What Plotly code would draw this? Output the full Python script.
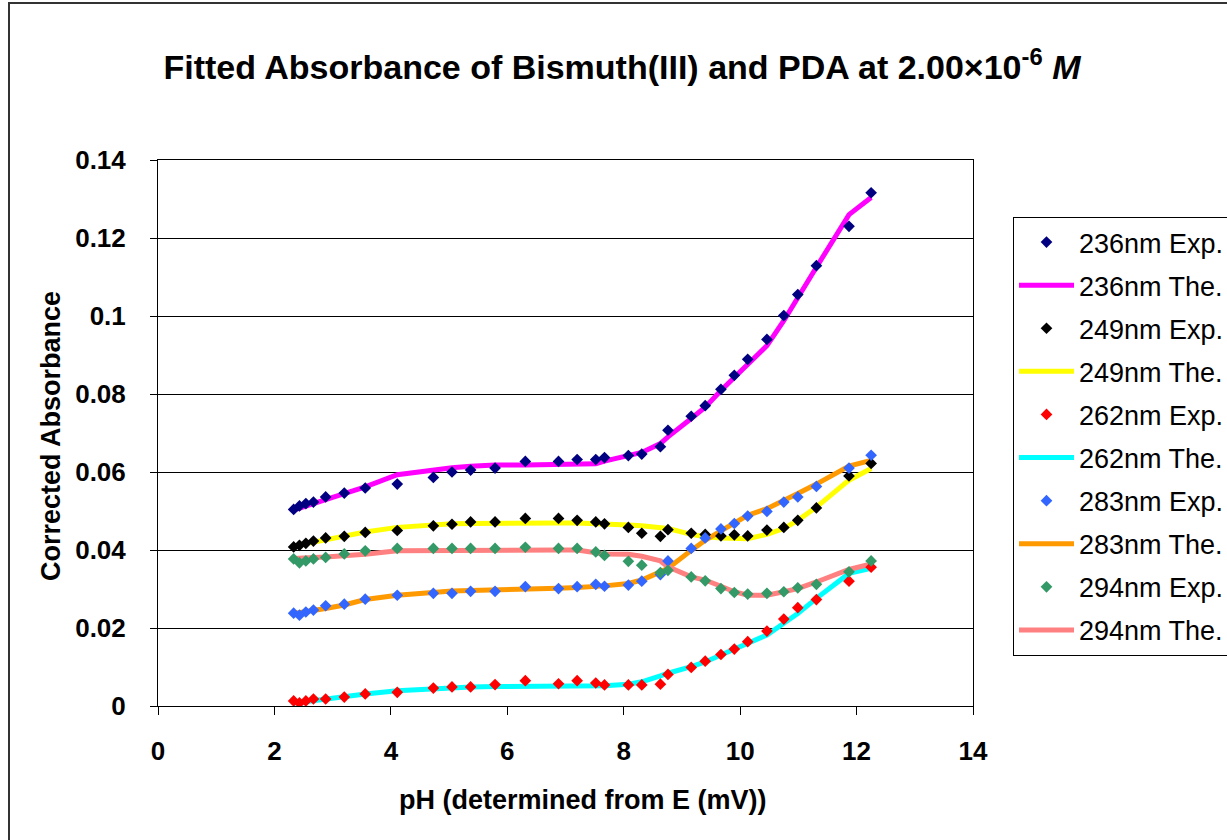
import plotly.graph_objects as go

ph = [2.33, 2.43, 2.54, 2.67, 2.88, 3.20, 3.56, 4.11, 4.73, 5.05, 5.37, 5.79, 6.31, 6.88, 7.20, 7.52,
      7.67, 8.08, 8.31, 8.63, 8.76, 9.16, 9.40, 9.67, 9.90, 10.13, 10.46, 10.75, 10.99, 11.31, 11.87, 12.25]

exp_236 = [0.0504, 0.0513, 0.0519, 0.0523, 0.0536, 0.0546, 0.0559, 0.0569, 0.0586, 0.0600, 0.0605, 0.0610,
           0.0627, 0.0627, 0.0632, 0.0632, 0.0637, 0.0642, 0.0646, 0.0665, 0.0707, 0.0743, 0.0770, 0.0812,
           0.0848, 0.0889, 0.0940, 0.1001, 0.1055, 0.1129, 0.1230, 0.1316]
the_236 = [0.0502, 0.0508, 0.0514, 0.0519, 0.0529, 0.0545, 0.0562, 0.0593, 0.0606, 0.0611, 0.0615, 0.0618,
           0.0618, 0.0618, 0.0620, 0.0621, 0.0628, 0.0643, 0.0650, 0.0673, 0.0690, 0.0737, 0.0766, 0.0809,
           0.0843, 0.0878, 0.0924, 0.0988, 0.1048, 0.1125, 0.1260, 0.1304]
exp_249 = [0.0408, 0.0412, 0.0417, 0.0423, 0.0431, 0.0435, 0.0445, 0.0450, 0.0462, 0.0466, 0.0472, 0.0472,
           0.0481, 0.0481, 0.0476, 0.0472, 0.0467, 0.0458, 0.0443, 0.0435, 0.0452, 0.0443, 0.0440, 0.0436,
           0.0439, 0.0436, 0.0451, 0.0458, 0.0476, 0.0508, 0.0590, 0.0622]
the_249 = [0.0410, 0.0413, 0.0416, 0.0420, 0.0426, 0.0436, 0.0446, 0.0458, 0.0465, 0.0467, 0.0468, 0.0469,
           0.0469, 0.0469, 0.0469, 0.0468, 0.0467, 0.0464, 0.0462, 0.0458, 0.0455, 0.0440, 0.0434, 0.0431,
           0.0429, 0.0429, 0.0440, 0.0455, 0.0476, 0.0510, 0.0579, 0.0609]
exp_262 = [0.0013, 0.0008, 0.0013, 0.0018, 0.0018, 0.0023, 0.0031, 0.0035, 0.0046, 0.0049, 0.0049, 0.0055,
           0.0065, 0.0057, 0.0065, 0.0059, 0.0054, 0.0054, 0.0054, 0.0056, 0.0081, 0.0099, 0.0115, 0.0132,
           0.0146, 0.0165, 0.0192, 0.0223, 0.0252, 0.0273, 0.0320, 0.0356]
the_262 = [0.0007, 0.0009, 0.0011, 0.0013, 0.0017, 0.0024, 0.0031, 0.0039, 0.0045, 0.0047, 0.0049, 0.0050,
           0.0050, 0.0050, 0.0050, 0.0051, 0.0052, 0.0056, 0.0062, 0.0077, 0.0084, 0.0101, 0.0113, 0.0131,
           0.0145, 0.0161, 0.0182, 0.0212, 0.0237, 0.0276, 0.0340, 0.0353]
exp_283 = [0.0238, 0.0233, 0.0241, 0.0246, 0.0257, 0.0261, 0.0274, 0.0284, 0.0289, 0.0289, 0.0294, 0.0294,
           0.0306, 0.0301, 0.0306, 0.0312, 0.0307, 0.0310, 0.0320, 0.0337, 0.0372, 0.0404, 0.0431, 0.0454,
           0.0468, 0.0487, 0.0499, 0.0523, 0.0536, 0.0563, 0.0610, 0.0643]
the_283 = [0.0237, 0.0239, 0.0241, 0.0244, 0.0250, 0.0259, 0.0273, 0.0284, 0.0293, 0.0295, 0.0296, 0.0297,
           0.0301, 0.0302, 0.0304, 0.0306, 0.0308, 0.0314, 0.0323, 0.0344, 0.0353, 0.0399, 0.0425, 0.0449,
           0.0469, 0.0489, 0.0506, 0.0526, 0.0545, 0.0569, 0.0615, 0.0630]
exp_294 = [0.0377, 0.0367, 0.0372, 0.0377, 0.0381, 0.0390, 0.0398, 0.0404, 0.0404, 0.0404, 0.0404, 0.0404,
           0.0407, 0.0404, 0.0404, 0.0395, 0.0386, 0.0371, 0.0361, 0.0342, 0.0348, 0.0331, 0.0321, 0.0301,
           0.0291, 0.0287, 0.0289, 0.0293, 0.0303, 0.0312, 0.0344, 0.0372]
the_294 = [0.0378, 0.0378, 0.0379, 0.0381, 0.0382, 0.0384, 0.0389, 0.0398, 0.0399, 0.0400, 0.0400, 0.0400,
           0.0400, 0.0400, 0.0400, 0.0393, 0.0390, 0.0389, 0.0384, 0.0372, 0.0357, 0.0331, 0.0323, 0.0307,
           0.0293, 0.0284, 0.0284, 0.0293, 0.0301, 0.0318, 0.0350, 0.0364]

wavelengths = ["236nm", "249nm", "262nm", "283nm", "294nm"]
exp_series = [exp_236, exp_249, exp_262, exp_283, exp_294]
the_series = [the_236, the_249, the_262, the_283, the_294]
exp_colors = ["#000080", "#000000", "#FF0000", "#3366FF", "#339966"]
the_colors = ["#FF00FF", "#FFFF00", "#00FFFF", "#FF9900", "#FF8080"]

x_tickvals = [0, 2, 4, 6, 8, 10, 12, 14]
y_tickvals = [0, 0.02, 0.04, 0.06, 0.08, 0.1, 0.12, 0.14]
y_ticktext = ["0", "0.02", "0.04", "0.06", "0.08", "0.1", "0.12", "0.14"]

FONT = "Liberation Sans, Arial, sans-serif"

fig = go.Figure()
# lines first (drawn beneath markers)
for i, (wl, ys, c) in enumerate(zip(wavelengths, the_series, the_colors)):
    fig.add_trace(go.Scatter(x=ph, y=ys, mode="lines", name=f"{wl} The.",
                             line=dict(color=c, width=5), legendrank=2 * i + 2,
                             legendgroup=f"g{2 * i + 2:02d}"))
for i, (wl, ys, c) in enumerate(zip(wavelengths, exp_series, exp_colors)):
    fig.add_trace(go.Scatter(x=ph, y=ys, mode="markers", name=f"{wl} Exp.",
                             marker=dict(symbol="diamond", size=9, color=c, line=dict(width=0)),
                             legendrank=2 * i + 1, legendgroup=f"g{2 * i + 1:02d}"))

fig.update_layout(
    width=1227, height=840,
    margin=dict(l=158, r=254, t=160, b=134),
    paper_bgcolor="white", plot_bgcolor="white",
    font=dict(family=FONT, color="black"),
    title=dict(text="Fitted Absorbance of Bismuth(III) and PDA at 2.00×10<sup>-6</sup> <i>M</i>",
               x=622 / 1227, xref="container", xanchor="center",
               y=1 - 67 / 840, yref="container", yanchor="middle",
               font=dict(size=34, family=FONT, weight="bold", color="black")),
    xaxis=dict(range=[0, 14], tickvals=x_tickvals, ticks="outside", ticklen=8, tickwidth=1,
               tickcolor="black", showline=True, linecolor="black", linewidth=1, mirror=True,
               showgrid=False, zeroline=False, ticklabelstandoff=14,
               tickfont=dict(size=26, family=FONT, weight="bold", color="black")),
    yaxis=dict(range=[0, 0.14], tickvals=y_tickvals, ticktext=y_ticktext, ticks="outside", ticklen=7,
               tickwidth=1, tickcolor="black", showline=True, linecolor="black", linewidth=1, mirror=True,
               showgrid=True, gridcolor="black", gridwidth=1, zeroline=False, ticklabelstandoff=19,
               tickfont=dict(size=26, family=FONT, weight="bold", color="black")),
    legend=dict(x=1013 / 1227, xref="container", xanchor="left",
                y=1 - 217 / 840, yref="container", yanchor="top",
                bgcolor="white", bordercolor="black", borderwidth=1,
                font=dict(size=27, family=FONT, color="black"),
                tracegroupgap=5, itemwidth=55, traceorder="grouped", maxheight=600),
    showlegend=True,
    annotations=[
        dict(text="pH (determined from E (mV))", xref="paper", yref="paper",
             x=(583 - 158) / 815, y=(706 - 800) / 546, xanchor="center", yanchor="middle",
             showarrow=False, font=dict(size=27, family=FONT, weight="bold", color="black")),
        dict(text="Corrected Absorbance", xref="paper", yref="paper", textangle=-90,
             x=(51 - 158) / 815, y=(706 - 436) / 546, xanchor="center", yanchor="middle",
             showarrow=False, font=dict(size=27, family=FONT, weight="bold", color="black")),
    ],
    shapes=[
        dict(type="rect", xref="paper", yref="paper",
             x0=(9 - 158) / 815, x1=1.5, y0=-0.5, y1=(706 - 3) / 546,
             line=dict(color="#333333", width=2), fillcolor="rgba(0,0,0,0)", layer="below"),
    ],
)

fig.write_html("out.html")
